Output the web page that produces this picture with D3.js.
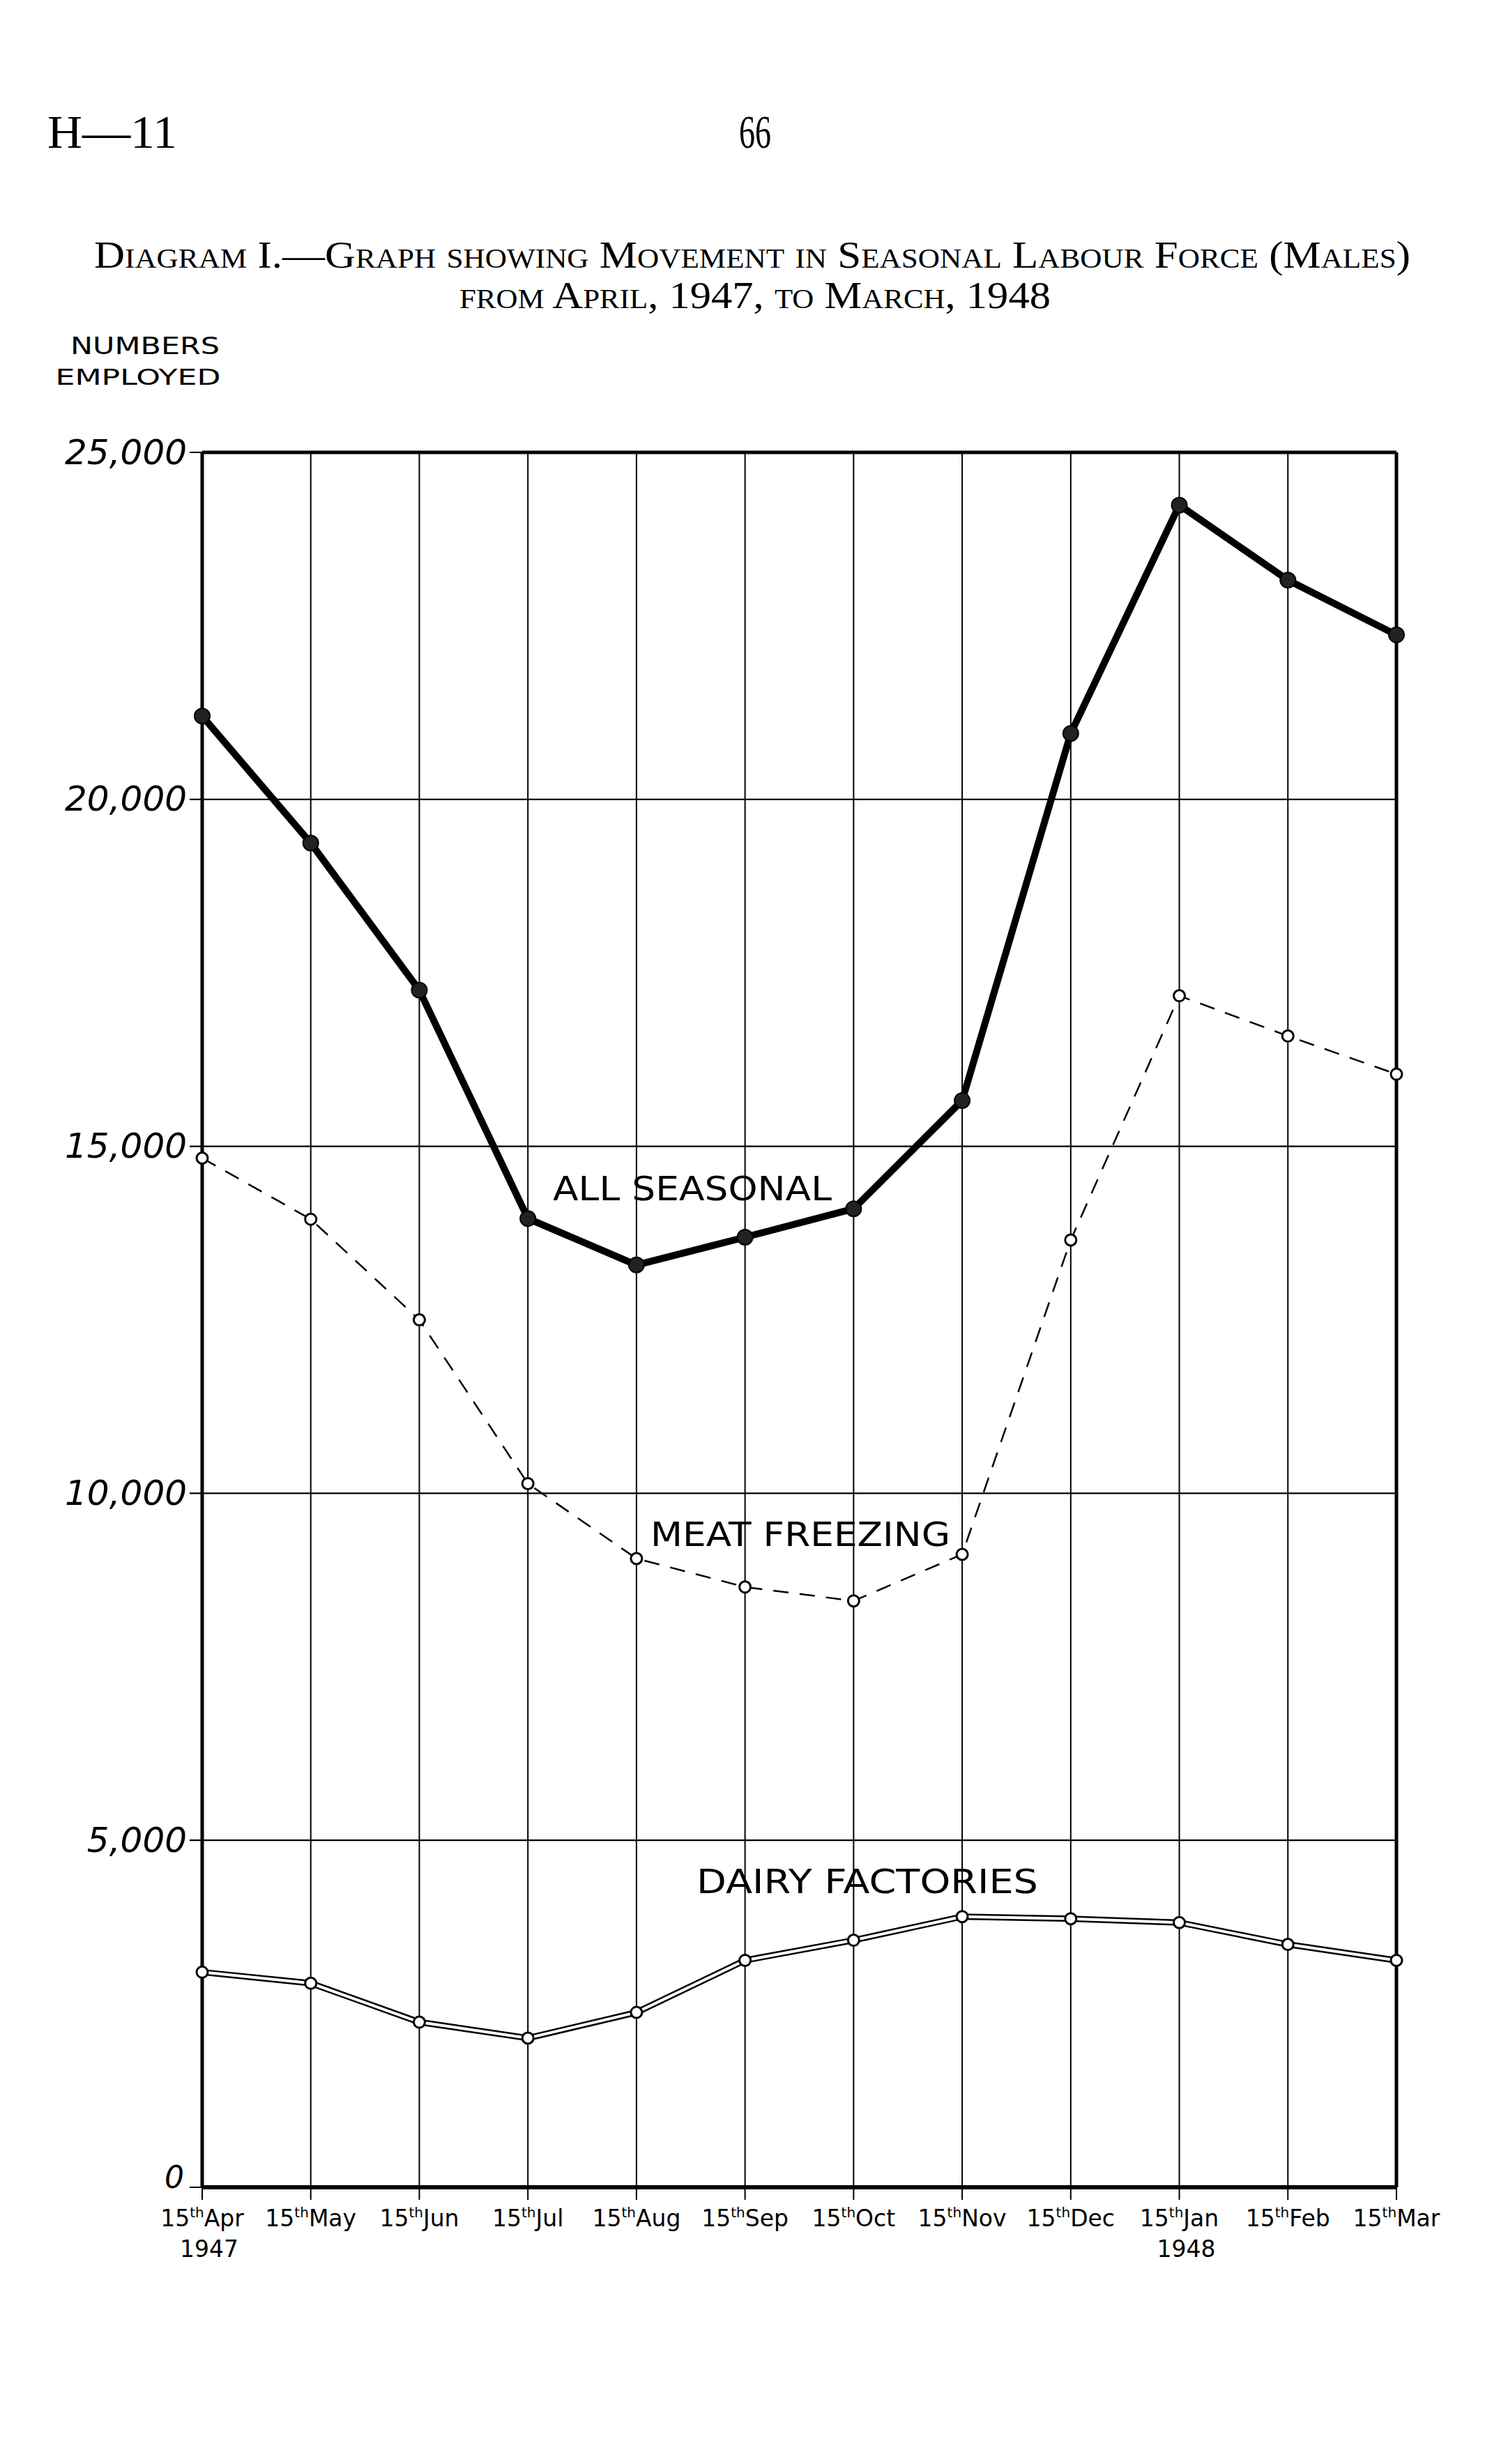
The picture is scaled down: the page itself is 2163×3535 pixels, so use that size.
<!DOCTYPE html>
<html><head><meta charset="utf-8">
<script src="https://cdn.jsdelivr.net/npm/d3@7/dist/d3.min.js"></script>
<style>
html,body{margin:0;padding:0;background:#fff;}
svg{display:block;}
</style></head>
<body>
<script>
const months = ["Apr","May","Jun","Jul","Aug","Sep","Oct","Nov","Dec","Jan","Feb","Mar"];
const monthLabels = ["Apr","May","Jun","Jul","Aug","Sep","Oct","Nov","Dec","Jan","Feb","Mar"];
const yearLabels = {"Apr":"1947","Jan":"1948"};
const allSeasonal = [21200,19370,17250,13960,13290,13690,14100,15660,20950,24240,23160,22370];
const meatFreezing = [14830,13950,12500,10140,9060,8650,8450,9120,13650,17170,16590,16040];
const dairyFactories = [3100,2940,2380,2150,2520,3270,3560,3900,3870,3815,3500,3270];
const yTicks = [0,5000,10000,15000,20000,25000];
const yTickLabels = ["0","5,000","10,000","15,000","20,000","25,000"];

const W = 2163, H = 3535;
const svg = d3.select("body").append("svg").attr("width", W).attr("height", H);
svg.append("rect").attr("width", W).attr("height", H).attr("fill", "#fff");

const x = d3.scalePoint().domain(months).range([290, 2003]);
const y = d3.scaleLinear().domain([0, 25000]).range([3138, 649]);

// header
const serif = "'Liberation Serif','DejaVu Serif',serif";
const hdr = svg.append("g").attr("transform", "scale(1,1.45)");
hdr.append("text").attr("x", 68).attr("y", 212/1.45).attr("font-family", serif).attr("font-size", 46)
  .attr("textLength", 186).attr("lengthAdjust","spacingAndGlyphs").text("H—11");
hdr.append("text").attr("x", 1083).attr("y", 212/1.45).attr("font-family", serif).attr("font-size", 46)
  .attr("text-anchor","middle").text("66");
const ttl = svg.append("g").attr("transform", "scale(1,1.2)");
ttl.append("text").attr("x", 135).attr("y", 384/1.2).attr("font-family", serif).attr("font-size", 46)
  .style("font-variant","small-caps").attr("textLength", 1888).attr("lengthAdjust","spacingAndGlyphs")
  .text("Diagram I.—Graph showing Movement in Seasonal Labour Force (Males)");
ttl.append("text").attr("x", 1083).attr("y", 442/1.2).attr("font-family", serif).attr("font-size", 46)
  .attr("text-anchor","middle").style("font-variant","small-caps")
  .attr("textLength", 848).attr("lengthAdjust","spacingAndGlyphs")
  .text("from April, 1947, to March, 1948");

const hand = "'DejaVu Sans','Liberation Sans',sans-serif";
svg.append("text").attr("x", 208).attr("y", 508).attr("font-family", hand).attr("font-size", 34)
  .attr("text-anchor","middle").attr("textLength", 214).attr("lengthAdjust","spacingAndGlyphs").text("NUMBERS");
svg.append("text").attr("x", 198).attr("y", 552).attr("font-family", hand).attr("font-size", 32)
  .attr("text-anchor","middle").attr("textLength", 237).attr("lengthAdjust","spacingAndGlyphs").text("EMPLOYED");

const g = svg.append("g");

// vertical grid
g.selectAll("line.vg").data(months).enter().append("line")
  .attr("x1", d => x(d)).attr("x2", d => x(d)).attr("y1", y(25000)).attr("y2", y(0) + 18)
  .attr("stroke", "#000").attr("stroke-width", 2);
// horizontal grid
g.selectAll("line.hg").data(yTicks).enter().append("line")
  .attr("x1", x("Apr") - 18).attr("x2", x("Mar")).attr("y1", d => y(d)).attr("y2", d => y(d))
  .attr("stroke", "#000").attr("stroke-width", 2.2);

// frame
g.append("line").attr("x1", x("Apr")).attr("x2", x("Apr")).attr("y1", y(25000)).attr("y2", y(0))
  .attr("stroke","#000").attr("stroke-width", 5);
g.append("line").attr("x1", x("Mar")).attr("x2", x("Mar")).attr("y1", y(25000)).attr("y2", y(0))
  .attr("stroke","#000").attr("stroke-width", 5);
g.append("line").attr("x1", x("Apr")).attr("x2", x("Mar")).attr("y1", y(25000)).attr("y2", y(25000))
  .attr("stroke","#000").attr("stroke-width", 5);
g.append("line").attr("x1", x("Apr")).attr("x2", x("Mar")).attr("y1", y(0)).attr("y2", y(0))
  .attr("stroke","#000").attr("stroke-width", 6);

// y axis labels via d3 axis
const yAxis = d3.axisLeft(y).tickValues(yTicks).tickSize(0).tickPadding(22)
  .tickFormat((d,i) => yTickLabels[i]);
const ya = svg.append("g").attr("transform", `translate(${x("Apr")},0)`).call(yAxis);
ya.select(".domain").remove();
ya.selectAll("text").attr("font-family", "'DejaVu Sans','Liberation Sans',sans-serif")
  .attr("font-style","italic").attr("font-size", 50).attr("fill","#000");
ya.selectAll(".tick").filter(d => d === 0).select("text")
  .attr("font-size", 44).attr("y", -14).attr("x", -26);

// x axis labels
const xa = svg.append("g");
xa.selectAll("text.m").data(months).enter().append("text")
  .attr("x", d => x(d)).attr("y", 3194).attr("text-anchor","middle")
  .attr("font-family", hand).attr("font-size", 33)
  .each(function(d,i){
    const t = d3.select(this);
    t.append("tspan").text("15");
    t.append("tspan").attr("dy", -13).attr("font-size", 20).text("th");
    t.append("tspan").attr("dy", 13).text(monthLabels[i]);
  });
xa.selectAll("text.yr").data(Object.keys(yearLabels)).enter().append("text")
  .attr("x", d => x(d) + 10).attr("y", 3238).attr("text-anchor","middle")
  .attr("font-family", hand).attr("font-size", 33).text(d => yearLabels[d]);

// lines
const line = d3.line().x((d,i) => x(months[i])).y(d => y(d));

// Dairy: double line
g.append("path").datum(dairyFactories).attr("d", line).attr("fill","none")
  .attr("stroke","#000").attr("stroke-width", 9);
g.append("path").datum(dairyFactories).attr("d", line).attr("fill","none")
  .attr("stroke","#fff").attr("stroke-width", 4);
g.selectAll("circle.df").data(dairyFactories).enter().append("circle")
  .attr("cx",(d,i)=>x(months[i])).attr("cy", d=>y(d)).attr("r", 8)
  .attr("fill","#fff").attr("stroke","#000").attr("stroke-width", 3);

// Meat freezing: dashed
g.append("path").datum(meatFreezing).attr("d", line).attr("fill","none")
  .attr("stroke","#000").attr("stroke-width", 2.5).attr("stroke-dasharray","22,16");
g.selectAll("circle.mf").data(meatFreezing).enter().append("circle")
  .attr("cx",(d,i)=>x(months[i])).attr("cy", d=>y(d)).attr("r", 8)
  .attr("fill","#fff").attr("stroke","#000").attr("stroke-width", 3);

// All seasonal: thick
g.append("path").datum(allSeasonal).attr("d", line).attr("fill","none")
  .attr("stroke","#000").attr("stroke-width", 10).attr("stroke-linejoin","round");
g.selectAll("circle.as").data(allSeasonal).enter().append("circle")
  .attr("cx",(d,i)=>x(months[i])).attr("cy", d=>y(d)).attr("r", 11)
  .attr("fill","#222").attr("stroke","#000").attr("stroke-width", 2);

// series labels
const lab = [["ALL SEASONAL", 993, 1722, 400], ["MEAT FREEZING", 1148, 2218, 430], ["DAIRY FACTORIES", 1244, 2716, 490]];
svg.selectAll("text.lab").data(lab).enter().append("text")
  .attr("x", d => d[1]).attr("y", d => d[2]).attr("text-anchor","middle")
  .attr("font-family", hand).attr("font-size", 48)
  .attr("textLength", d => d[3]).attr("lengthAdjust","spacingAndGlyphs")
  .attr("fill","#000").text(d => d[0]);
</script>
</body></html>
